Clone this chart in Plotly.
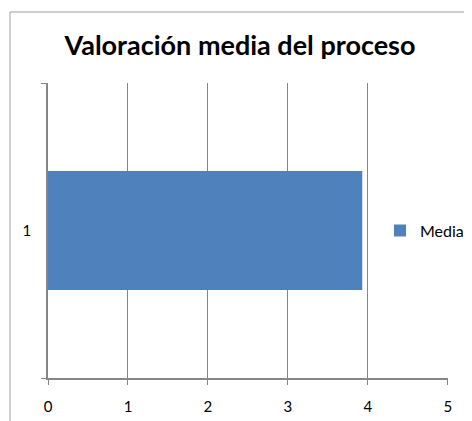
import plotly.graph_objects as go

categories = ["1"]
media = [3.93]
x_ticks = [0, 1, 2, 3, 4, 5]

GRAY = "#868686"

fig = go.Figure()
fig.add_trace(go.Bar(
    y=categories, x=media, orientation="h", name="Media",
    marker={"color": "#4F81BD", "line": {"width": 0}},
    width=0.403,
))

# page body has an 8px margin, so the figure is a bit smaller than the window
fig.update_layout(
    width=464, height=413,
    paper_bgcolor="white", plot_bgcolor="white",
    margin={"l": 40, "r": 24, "t": 75, "b": 43, "autoexpand": False},
    font={"family": "Lato, sans-serif", "size": 15, "color": "#000000"},
    title={"text": "<b>Valoración media del proceso</b>", "x": 0.5, "xanchor": "center",
           "y": 0.91, "yanchor": "middle", "font": {"size": 27, "color": "#000000"}},
    xaxis={"range": [0, 5.002], "tickvals": x_ticks, "showgrid": True, "gridcolor": GRAY, "gridwidth": 1,
           "showline": True, "linecolor": GRAY, "linewidth": 1.5, "ticks": "outside", "ticklen": 5,
           "tickcolor": GRAY, "zeroline": False, "fixedrange": True, "automargin": False,
           "ticklabelstandoff": 9},
    yaxis={"type": "category", "range": [-0.5, 0.5], "showgrid": False, "showline": True,
           "linecolor": GRAY, "linewidth": 1.5, "ticks": "outside", "ticklen": 5, "tickcolor": GRAY,
           "tickson": "boundaries", "ticklabelstandoff": 12, "fixedrange": True, "automargin": False},
    legend={"x": 0.83, "y": 0.5, "xanchor": "left", "yanchor": "middle", "bgcolor": "rgba(0,0,0,0)",
            "font": {"size": 16}, "itemwidth": 30},
    showlegend=True,
    bargap=0.6,
    shapes=[{"type": "rect", "xref": "paper", "yref": "paper",
             "x0": -0.095, "x1": 1.1, "y0": -0.2, "y1": 1.2407,
             "line": {"color": "#A0A0A0", "width": 1}}],
)

fig.write_html("out.html")
